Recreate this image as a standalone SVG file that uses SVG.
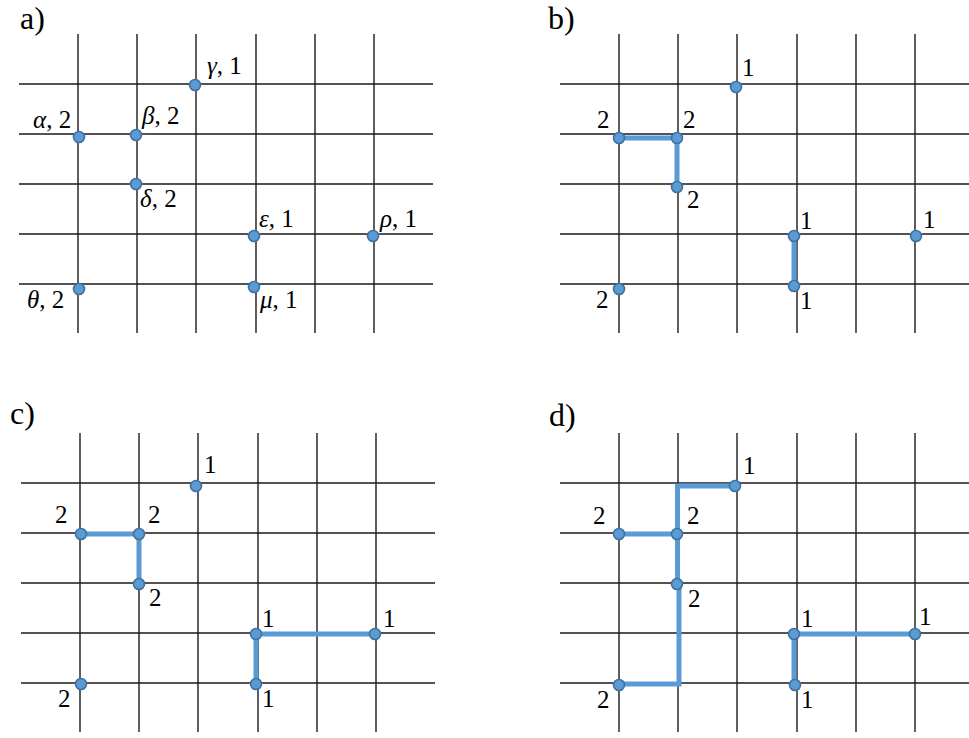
<svg xmlns="http://www.w3.org/2000/svg" width="969" height="738" viewBox="0 0 969 738" font-family="'Liberation Serif', 'DejaVu Serif', serif">
<style>
.grid line{stroke:#1a1a1a;stroke-width:1.4}
.conn path{fill:none;stroke:#5b9bd5;stroke-width:5;stroke-linejoin:miter;stroke-linecap:butt}
.dot{fill:#5b9bd5;stroke:#41719c;stroke-width:1.6}
text{font-family:'Liberation Serif','DejaVu Serif',serif;font-size:25px;fill:#000}
text.panel{font-size:32px}
.gr{font-style:italic}
</style>
<rect width="969" height="738" fill="#fff"/>

<!-- Panel a -->
<g id="panel-a">
<text class="panel" x="20" y="29">a)</text>
<g class="grid">
<line x1="78" y1="34" x2="78" y2="333"/><line x1="137" y1="34" x2="137" y2="333"/><line x1="196" y1="34" x2="196" y2="333"/><line x1="256" y1="34" x2="256" y2="333"/><line x1="315" y1="34" x2="315" y2="333"/><line x1="374" y1="34" x2="374" y2="333"/>
<line x1="19" y1="84" x2="433" y2="84"/><line x1="19" y1="134" x2="433" y2="134"/><line x1="19" y1="184" x2="433" y2="184"/><line x1="19" y1="234" x2="433" y2="234"/><line x1="19" y1="284" x2="433" y2="284"/>
</g>
<g id="a-gamma"><circle class="dot" cx="195" cy="85" r="5.5"/><text x="207" y="74"><tspan class="gr">γ</tspan>, 1</text></g>
<g id="a-alpha"><circle class="dot" cx="79" cy="137" r="5.5"/><text x="33" y="128"><tspan class="gr">α</tspan>, 2</text></g>
<g id="a-beta"><circle class="dot" cx="136" cy="135" r="5.5"/><text x="142" y="124"><tspan class="gr">β</tspan>, 2</text></g>
<g id="a-delta"><circle class="dot" cx="136" cy="184" r="5.5"/><text x="140" y="207"><tspan class="gr">δ</tspan>, 2</text></g>
<g id="a-epsilon"><circle class="dot" cx="254" cy="236" r="5.5"/><text x="259" y="227"><tspan class="gr">ε</tspan>, 1</text></g>
<g id="a-rho"><circle class="dot" cx="373" cy="236" r="5.5"/><text x="380" y="227"><tspan class="gr">ρ</tspan>, 1</text></g>
<g id="a-theta"><circle class="dot" cx="79" cy="289" r="5.5"/><text x="27" y="308"><tspan class="gr">θ</tspan>, 2</text></g>
<g id="a-mu"><circle class="dot" cx="254" cy="287" r="5.5"/><text x="260" y="308"><tspan class="gr">μ</tspan>, 1</text></g>
</g>

<!-- Panel b -->
<g id="panel-b">
<text class="panel" x="548" y="29">b)</text>
<g class="grid">
<line x1="619" y1="34" x2="619" y2="333"/><line x1="678" y1="34" x2="678" y2="333"/><line x1="737" y1="34" x2="737" y2="333"/><line x1="797" y1="34" x2="797" y2="333"/><line x1="856" y1="34" x2="856" y2="333"/><line x1="915" y1="34" x2="915" y2="333"/>
<line x1="560" y1="84" x2="969" y2="84"/><line x1="560" y1="134" x2="969" y2="134"/><line x1="560" y1="184" x2="969" y2="184"/><line x1="560" y1="234" x2="969" y2="234"/><line x1="560" y1="284" x2="969" y2="284"/>
</g>
<g class="conn" id="b-connectors">
<path d="M619,138 H677 V187"/>
<path d="M794,236 V286"/>
</g>
<g id="b-n1"><circle class="dot" cx="736" cy="87" r="5.5"/><text x="742" y="76">1</text></g>
<g id="b-n2"><circle class="dot" cx="619" cy="138" r="5.5"/><text x="597" y="128">2</text></g>
<g id="b-n3"><circle class="dot" cx="677" cy="138" r="5.5"/><text x="683" y="128">2</text></g>
<g id="b-n4"><circle class="dot" cx="677" cy="187" r="5.5"/><text x="687" y="208">2</text></g>
<g id="b-n5"><circle class="dot" cx="794" cy="236" r="5.5"/><text x="800" y="229">1</text></g>
<g id="b-n6"><circle class="dot" cx="916" cy="236" r="5.5"/><text x="923" y="228">1</text></g>
<g id="b-n7"><circle class="dot" cx="619" cy="289" r="5.5"/><text x="596" y="308">2</text></g>
<g id="b-n8"><circle class="dot" cx="794" cy="286" r="5.5"/><text x="800" y="309">1</text></g>
</g>

<!-- Panel c -->
<g id="panel-c">
<text class="panel" x="10" y="424">c)</text>
<g class="grid">
<line x1="80" y1="433" x2="80" y2="732"/><line x1="139" y1="433" x2="139" y2="732"/><line x1="198" y1="433" x2="198" y2="732"/><line x1="258" y1="433" x2="258" y2="732"/><line x1="317" y1="433" x2="317" y2="732"/><line x1="376" y1="433" x2="376" y2="732"/>
<line x1="21" y1="483" x2="435" y2="483"/><line x1="21" y1="533" x2="435" y2="533"/><line x1="21" y1="583" x2="435" y2="583"/><line x1="21" y1="633" x2="435" y2="633"/><line x1="21" y1="683" x2="435" y2="683"/>
</g>
<g class="conn" id="c-connectors">
<path d="M81,534 H139 V584"/>
<path d="M375,634 H256 V684"/>
</g>
<g id="c-n1"><circle class="dot" cx="196" cy="486" r="5.5"/><text x="204" y="473">1</text></g>
<g id="c-n2"><circle class="dot" cx="81" cy="534" r="5.5"/><text x="55" y="523">2</text></g>
<g id="c-n3"><circle class="dot" cx="139" cy="534" r="5.5"/><text x="148" y="523">2</text></g>
<g id="c-n4"><circle class="dot" cx="139" cy="584" r="5.5"/><text x="149" y="606">2</text></g>
<g id="c-n5"><circle class="dot" cx="256" cy="634" r="5.5"/><text x="262" y="627">1</text></g>
<g id="c-n6"><circle class="dot" cx="375" cy="634" r="5.5"/><text x="383" y="627">1</text></g>
<g id="c-n7"><circle class="dot" cx="81" cy="684" r="5.5"/><text x="58" y="707">2</text></g>
<g id="c-n8"><circle class="dot" cx="256" cy="684" r="5.5"/><text x="262" y="707">1</text></g>
</g>

<!-- Panel d -->
<g id="panel-d">
<text class="panel" x="549" y="426">d)</text>
<g class="grid">
<line x1="619" y1="433" x2="619" y2="732"/><line x1="678" y1="433" x2="678" y2="732"/><line x1="737" y1="433" x2="737" y2="732"/><line x1="797" y1="433" x2="797" y2="732"/><line x1="856" y1="433" x2="856" y2="732"/><line x1="915" y1="433" x2="915" y2="732"/>
<line x1="560" y1="483" x2="969" y2="483"/><line x1="560" y1="533" x2="969" y2="533"/><line x1="560" y1="583" x2="969" y2="583"/><line x1="560" y1="633" x2="969" y2="633"/><line x1="560" y1="683" x2="969" y2="683"/>
</g>
<g class="conn" id="d-connectors">
<path d="M735,486 H677.5 V584 H679 V684 H619"/>
<path d="M619,534 H677"/>
<path d="M915,634 H794 V685"/>
</g>
<g id="d-n1"><circle class="dot" cx="735" cy="486" r="5.5"/><text x="743" y="474">1</text></g>
<g id="d-n2"><circle class="dot" cx="619" cy="534" r="5.5"/><text x="593" y="524">2</text></g>
<g id="d-n3"><circle class="dot" cx="677" cy="534" r="5.5"/><text x="687" y="524">2</text></g>
<g id="d-n4"><circle class="dot" cx="677" cy="584" r="5.5"/><text x="688" y="607">2</text></g>
<g id="d-n5"><circle class="dot" cx="794" cy="634" r="5.5"/><text x="801" y="627">1</text></g>
<g id="d-n6"><circle class="dot" cx="915" cy="634" r="5.5"/><text x="919" y="625">1</text></g>
<g id="d-n7"><circle class="dot" cx="619" cy="685" r="5.5"/><text x="597" y="708">2</text></g>
<g id="d-n8"><circle class="dot" cx="795" cy="685" r="5.5"/><text x="801" y="708">1</text></g>
</g>
</svg>
